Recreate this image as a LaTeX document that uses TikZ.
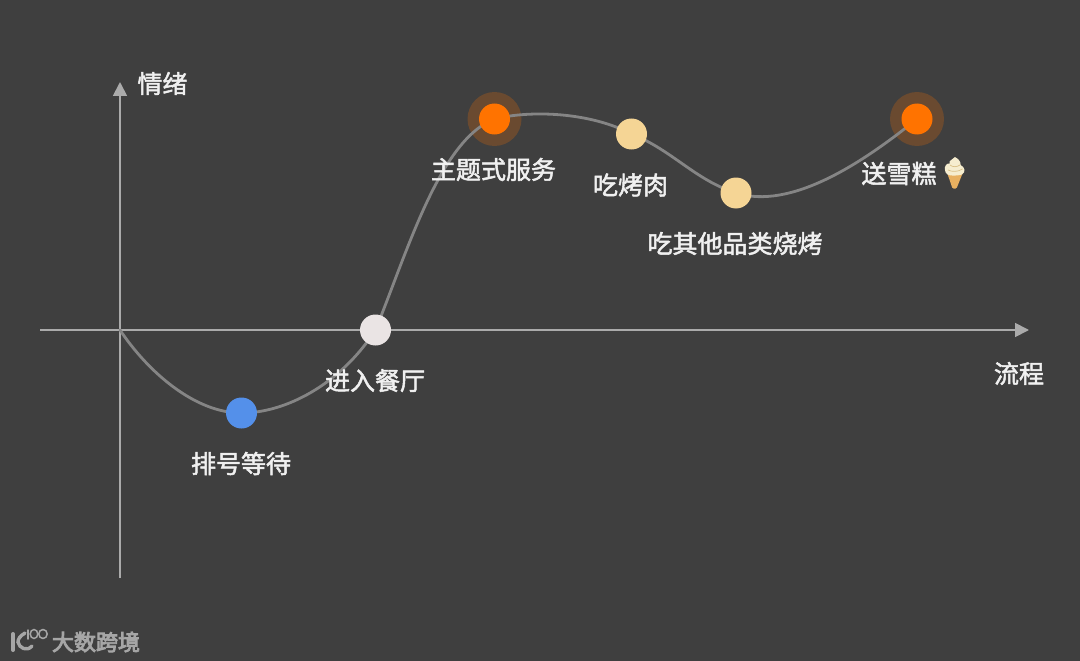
\documentclass[tikz,border=0pt]{standalone}
\usepackage{fontspec}
\setmainfont{Noto Sans CJK SC}
\newfontfamily\labfont[FakeBold=2]{Noto Sans CJK SC}
\newfontfamily\logofont[FakeBold=4]{Noto Sans CJK SC}
\usetikzlibrary{arrows.meta}
\definecolor{bgc}{HTML}{3F3F3F}
\definecolor{axisc}{HTML}{ABABAB}
\definecolor{curvec}{HTML}{858585}
\definecolor{haloc}{HTML}{6A4A30}
\definecolor{orangec}{HTML}{FF7300}
\definecolor{sandc}{HTML}{F5D595}
\definecolor{bluec}{HTML}{5490EA}
\definecolor{palec}{HTML}{EAE4E4}
\definecolor{logoc}{HTML}{A6A6A6}
\definecolor{conec}{HTML}{E8B060}
\definecolor{creamc}{HTML}{F6EDCF}
\definecolor{creamd}{HTML}{D9C088}
\tikzset{
  x=1pt,y=-1pt,
  dot/.style={circle,inner sep=0pt,minimum size=#1},
  lab/.style={text=white!94!black,font=\fontsize{25}{25}\selectfont\labfont,inner sep=0pt},
  axisline/.style={draw=axisc,line width=1.8pt,-{Triangle[length=14pt,width=14pt,fill=axisc]}},
  wave/.style={draw=curvec,line width=2.8pt,line cap=round},
  logoline/.style={draw=logoc,line cap=round},
}
\begin{document}
\begin{tikzpicture}
\useasboundingbox (0,0) rectangle (1080,661);
\fill[bgc] (0,0) rectangle (1080,661);
% anchors
\coordinate (xs) at (40,330); \coordinate (xe) at (1029,330);
\coordinate (ys) at (120,578); \coordinate (ye) at (120,82);
\coordinate (o) at (120,330);
% halos
\node[dot=54pt,fill=haloc] (h1) at (494.5,119) {};
\node[dot=54pt,fill=haloc] (h2) at (917,119) {};
% axes
\draw[axisline] (xs) -- (xe);
\draw[axisline] (ys) -- (ye);
% curve
\coordinate (p1) at (241.5,413);
\coordinate (p2) at (375.5,330);
\coordinate (p3) at (494.5,119);
\coordinate (p4) at (631.5,134);
\coordinate (p5) at (736,193);
\coordinate (p6) at (917,119);
\draw[wave] (o) .. controls (148,372) and (195,413) .. (p1)
  .. controls (285,413) and (340,385) .. (p2)
  .. controls (408,250) and (440,140) .. (p3)
  .. controls (530,110) and (590,112) .. (p4)
  .. controls (672,150) and (695,180) .. (p5)
  .. controls (790,210) and (860,165) .. (p6);
% dots
\node[dot=31pt,fill=bluec] (n1) at (p1) {};
\node[dot=31pt,fill=palec] (n2) at (p2) {};
\node[dot=31pt,fill=orangec] (n3) at (p3) {};
\node[dot=31pt,fill=sandc] (n4) at (p4) {};
\node[dot=31pt,fill=sandc] (n5) at (p5) {};
\node[dot=31pt,fill=orangec] (n6) at (p6) {};
% labels
\node[lab] (t1) at (162.5,83.5) {情绪};
\node[lab] (t2) at (1019,373.5) {流程};
\node[lab] (t3) at (241,463.5) {排号等待};
\node[lab] (t4) at (375,380.5) {进入餐厅};
\node[lab] (t5) at (493.5,169.5) {主题式服务};
\node[lab] (t6) at (630.5,185) {吃烤肉};
\node[lab] (t7) at (735,243.5) {吃其他品类烧烤};
\node[lab] (t8) at (899,173.5) {送雪糕};
% ice cream
\fill[conec,rounded corners=1pt] (946.5,171) -- (963.5,171) -- (956.5,188.5) -- (952.5,188.5) -- cycle;
\fill[creamc] (945,170) .. controls (944,166) and (947,163) .. (949.5,163.5)
  .. controls (948.5,160) and (953,160) .. (955,157) .. controls (959.5,159.5) and (961,162.5) .. (960.5,165)
  .. controls (965,167) and (966,172) .. (962,174.5) .. controls (957,176) and (950,176) .. (947.5,174.5) .. controls (946,173.5) and (945,172) .. (945,170) -- cycle;
\draw[creamd,line width=.7pt] (950,165) .. controls (953,167.5) and (957,167) .. (960,165) (948,170) .. controls (952,172) and (958,172) .. (962.5,169);
% logo
\draw[logoline,line width=4pt] (13,634) -- (13,650);
\draw[logoline,line width=3.4pt] (25,633) .. controls (20,636) and (18,639) .. (18,642) .. controls (19,648) and (27,652) .. (32,646);
\draw[logoline,line width=1.5pt] (28,630) -- (28,639);
\draw[logoline,line width=1.5pt] (34,634) ellipse (3.8pt and 4.5pt);
\draw[logoline,line width=1.5pt] (43,634) ellipse (4.2pt and 4.5pt);
\node[text=logoc,font=\fontsize{22}{22}\selectfont\logofont,inner sep=0pt] (lg) at (96,642) {大数跨境};
\end{tikzpicture}
\end{document}
